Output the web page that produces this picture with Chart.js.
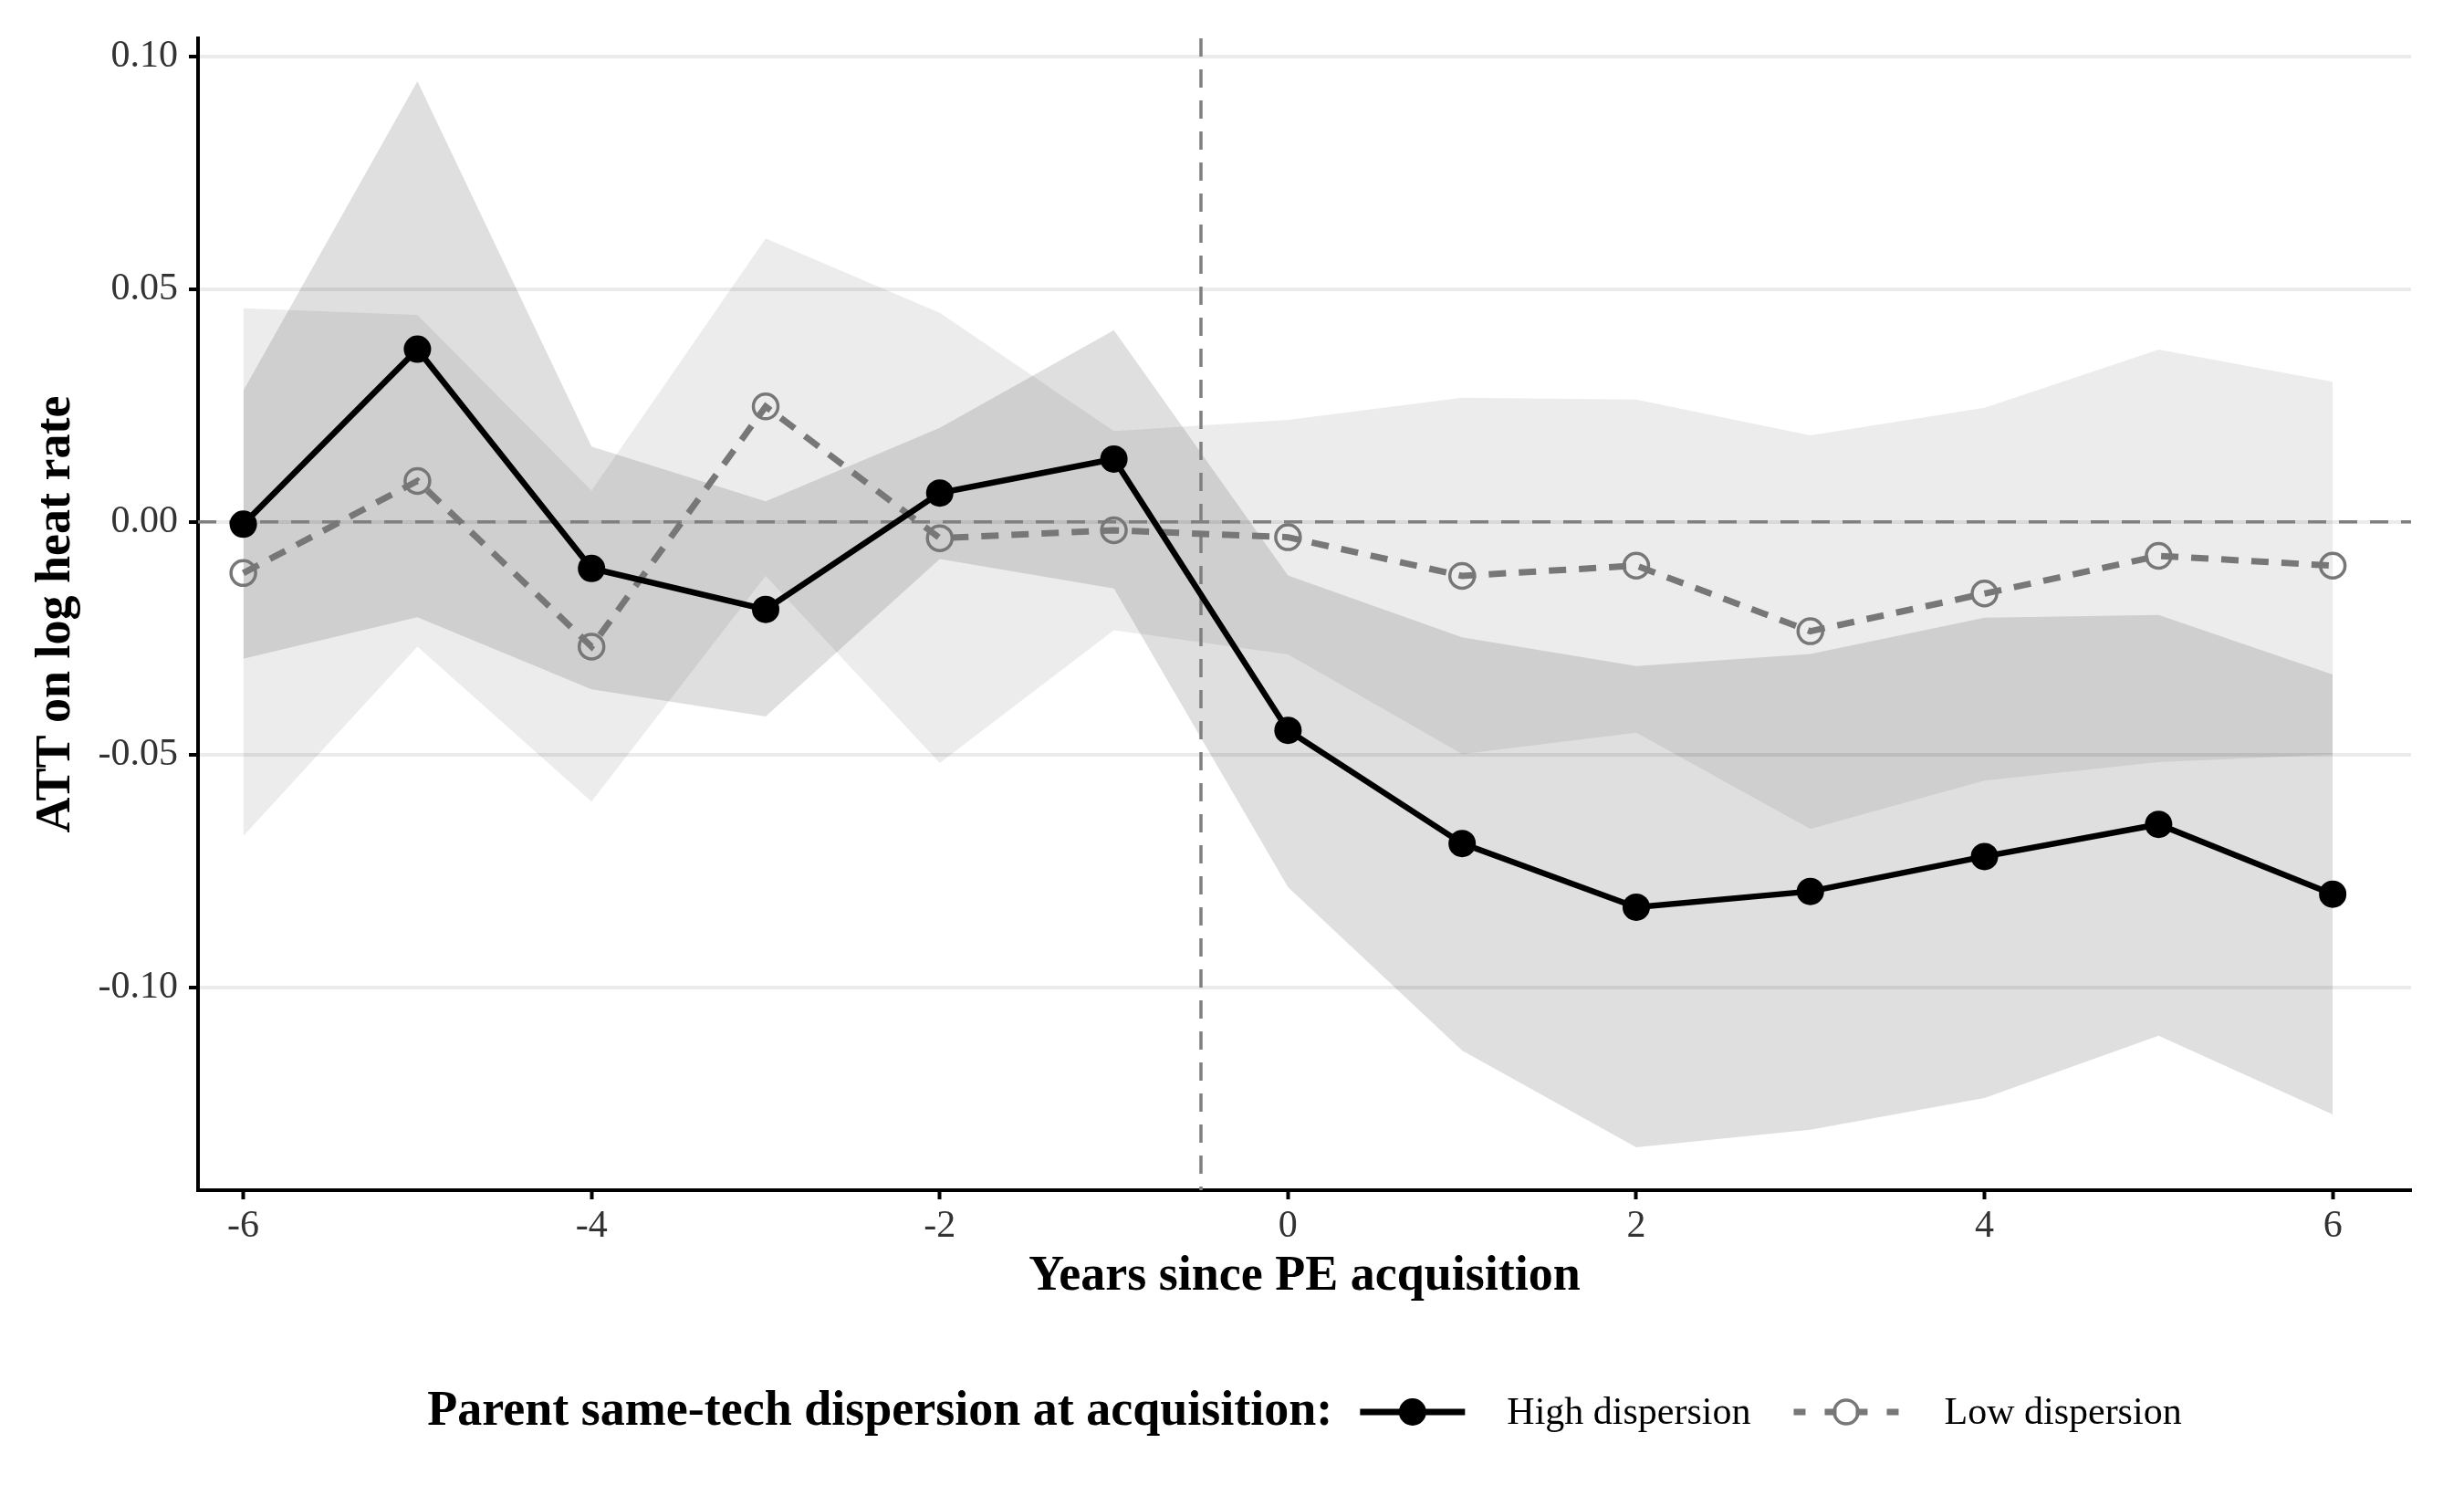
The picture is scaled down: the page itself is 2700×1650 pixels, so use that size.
<!DOCTYPE html>
<html>
<head>
<meta charset="utf-8">
<title>ATT on log heat rate</title>
<script src="https://cdn.jsdelivr.net/npm/chart.js@4.4.1/dist/chart.umd.min.js"></script>
<style>
  html, body { margin: 0; padding: 0; background: #ffffff; overflow: hidden; }
  #chartBox { width: 2700px; height: 1650px; position: relative; }
</style>
</head>
<body>
<div id="chartBox"><canvas id="attChart"></canvas></div>
<script>
// Dados do gráfico
const years = [-6, -5, -4, -3, -2, -1, 0, 1, 2, 3, 4, 5, 6];

const highEst   = [-0.0005, 0.0371, -0.0100, -0.0188, 0.0062, 0.0135, -0.0448, -0.0691, -0.0828, -0.0794, -0.0719, -0.0650, -0.0800];
const highLower = [-0.0294, -0.0205, -0.0360, -0.0418, -0.0080, -0.0143, -0.0785, -0.1136, -0.1344, -0.1306, -0.1238, -0.1104, -0.1273];
const highUpper = [0.0282, 0.0947, 0.0162, 0.0044, 0.0202, 0.0412, -0.0115, -0.0248, -0.0310, -0.0284, -0.0206, -0.0200, -0.0328];

const lowEst   = [-0.0110, 0.0088, -0.0268, 0.0248, -0.0035, -0.0018, -0.0033, -0.0116, -0.0094, -0.0235, -0.0154, -0.0073, -0.0094];
const lowLower = [-0.0675, -0.0268, -0.0601, -0.0116, -0.0518, -0.0233, -0.0285, -0.0499, -0.0453, -0.0660, -0.0556, -0.0516, -0.0500];
const lowUpper = [0.0459, 0.0445, 0.0067, 0.0609, 0.0449, 0.0195, 0.0219, 0.0267, 0.0263, 0.0186, 0.0245, 0.0370, 0.0301];

// Marcas dos eixos
const xTickValues = [-6, -4, -2, 0, 2, 4, 6];
const yTickValues = [-0.10, -0.05, 0.00, 0.05, 0.10];

// Linhas de referência
const refZeroY = 0;
const refEventX = -0.5;

// Textos
const seriesNames = ['High dispersion', 'Low dispersion'];
const legendTitle = 'Parent same-tech dispersion at acquisition:';
const xTitle = 'Years since PE acquisition';
const yTitle = 'ATT on log heat rate';

const serif = "'Liberation Serif', 'DejaVu Serif', serif";

function toPoints(values) {
  return years.map((yr, i) => ({ x: yr, y: values[i] }));
}

// Linhas tracejadas em y = 0 e x = -0,5
const refLinesPlugin = {
  id: 'refLines',
  beforeDatasetDraw(chart, args) {
    if (args.index !== 1) return;
    const { ctx, chartArea, scales } = chart;
    const y0 = scales.y.getPixelForValue(refZeroY);
    const xv = scales.x.getPixelForValue(refEventX);
    ctx.save();
    ctx.strokeStyle = '#808080';
    ctx.lineWidth = 3.5;
    ctx.setLineDash([20, 14]);
    ctx.beginPath();
    ctx.moveTo(chartArea.left, y0);
    ctx.lineTo(chartArea.right, y0);
    ctx.stroke();
    ctx.beginPath();
    ctx.moveTo(xv, chartArea.top);
    ctx.lineTo(xv, chartArea.bottom);
    ctx.stroke();
    ctx.restore();
  }
};

// Legenda embaixo, no estilo do ggplot
const bottomLegendPlugin = {
  id: 'bottomLegend',
  afterDraw(chart) {
    const { ctx, chartArea } = chart;
    const cy = chartArea.bottom + 243;
    const titleFont = 'bold 54px ' + serif;
    const labelFont = '42px ' + serif;
    const keyW = 115;

    ctx.save();
    ctx.font = titleFont;
    const titleW = ctx.measureText(legendTitle).width;
    ctx.font = labelFont;
    const lab1W = ctx.measureText(seriesNames[0]).width;
    const lab2W = ctx.measureText(seriesNames[1]).width;

    const total = titleW + 30 + keyW + 46 + lab1W + 47 + keyW + 50 + lab2W;
    let x = (chartArea.left + chartArea.right) / 2 - total / 2;

    ctx.textBaseline = 'middle';
    ctx.textAlign = 'left';
    ctx.fillStyle = '#000000';
    ctx.font = titleFont;
    ctx.fillText(legendTitle, x, cy);
    x += titleW + 30;

    // Chave: dispersão alta
    ctx.strokeStyle = '#000000';
    ctx.lineWidth = 7;
    ctx.setLineDash([]);
    ctx.beginPath();
    ctx.moveTo(x, cy);
    ctx.lineTo(x + keyW, cy);
    ctx.stroke();
    ctx.beginPath();
    ctx.arc(x + keyW / 2, cy, 15, 0, Math.PI * 2);
    ctx.fill();
    x += keyW + 46;

    ctx.fillStyle = '#000000';
    ctx.font = labelFont;
    ctx.fillText(seriesNames[0], x, cy + 2);
    x += lab1W + 47;

    // Chave: dispersão baixa
    ctx.strokeStyle = '#777777';
    ctx.lineWidth = 7;
    ctx.setLineDash([13, 21]);
    ctx.beginPath();
    ctx.moveTo(x, cy);
    ctx.lineTo(x + keyW, cy);
    ctx.stroke();
    ctx.setLineDash([]);
    ctx.lineWidth = 3.5;
    ctx.beginPath();
    ctx.arc(x + keyW / 2, cy, 13, 0, Math.PI * 2);
    ctx.stroke();
    x += keyW + 50;

    ctx.fillStyle = '#000000';
    ctx.fillText(seriesNames[1], x, cy + 2);
    ctx.restore();
  }
};

function buildChart() {
  const canvas = document.getElementById('attChart');
  const ctx = canvas.getContext('2d');

  window.attChartInstance = new Chart(ctx, {
    type: 'line',
    data: {
      datasets: [
        {
          label: seriesNames[0],
          data: toPoints(highEst),
          borderColor: '#000000',
          borderWidth: 6.5,
          tension: 0,
          fill: false,
          pointRadius: 15,
          pointBackgroundColor: '#000000',
          pointBorderColor: '#000000',
          pointBorderWidth: 0,
          order: 0
        },
        {
          label: seriesNames[1],
          data: toPoints(lowEst),
          borderColor: '#777777',
          borderWidth: 7,
          borderDash: [19, 14],
          tension: 0,
          fill: false,
          pointRadius: 13.5,
          pointBackgroundColor: 'rgba(0,0,0,0)',
          pointBorderColor: '#777777',
          pointBorderWidth: 3.5,
          order: 1
        },
        {
          label: 'high upper',
          data: toPoints(highUpper),
          borderColor: 'rgba(0,0,0,0)',
          borderWidth: 0,
          pointRadius: 0,
          tension: 0,
          fill: '+1',
          backgroundColor: 'rgba(0,0,0,0.125)',
          order: 2
        },
        {
          label: 'high lower',
          data: toPoints(highLower),
          borderColor: 'rgba(0,0,0,0)',
          borderWidth: 0,
          pointRadius: 0,
          tension: 0,
          fill: false,
          order: 2
        },
        {
          label: 'low upper',
          data: toPoints(lowUpper),
          borderColor: 'rgba(0,0,0,0)',
          borderWidth: 0,
          pointRadius: 0,
          tension: 0,
          fill: '+1',
          backgroundColor: 'rgba(0,0,0,0.075)',
          order: 2
        },
        {
          label: 'low lower',
          data: toPoints(lowLower),
          borderColor: 'rgba(0,0,0,0)',
          borderWidth: 0,
          pointRadius: 0,
          tension: 0,
          fill: false,
          order: 2
        }
      ]
    },
    options: {
      responsive: true,
      maintainAspectRatio: false,
      devicePixelRatio: 1,
      animation: false,
      layout: {
        padding: { top: 42, right: 58, bottom: 200, left: 0 }
      },
      plugins: {
        legend: { display: false },
        tooltip: { enabled: false }
      },
      scales: {
        x: {
          type: 'linear',
          min: -6.26,
          max: 6.45,
          afterFit(scale) { scale.height = 146; },
          afterBuildTicks(scale) {
            scale.ticks = xTickValues.map(v => ({ value: v }));
          },
          border: { display: true, color: '#000000', width: 4 },
          grid: {
            drawOnChartArea: false,
            drawTicks: true,
            tickLength: 10,
            tickColor: '#000000',
            tickWidth: 4
          },
          ticks: {
            autoSkip: false,
            maxRotation: 0,
            padding: 5,
            color: '#333333',
            font: { family: serif, size: 42 },
            callback: (v) => String(v)
          },
          title: {
            display: true,
            text: xTitle,
            color: '#000000',
            font: { family: serif, size: 54, weight: 'bold' },
            padding: { top: 0, bottom: 19 }
          }
        },
        y: {
          type: 'linear',
          min: -0.1436,
          max: 0.1039,
          afterFit(scale) { scale.width = 217; },
          afterBuildTicks(scale) {
            scale.ticks = yTickValues.map(v => ({ value: v }));
          },
          border: { display: true, color: '#000000', width: 4 },
          grid: {
            drawOnChartArea: true,
            color: '#ebebeb',
            lineWidth: 4,
            drawTicks: true,
            tickLength: 10,
            tickColor: '#000000',
            tickWidth: 4
          },
          ticks: {
            autoSkip: false,
            padding: 12,
            color: '#333333',
            font: { family: serif, size: 42 },
            callback: (v) => Number(v).toFixed(2)
          },
          title: {
            display: true,
            text: yTitle,
            color: '#000000',
            font: { family: serif, size: 54, weight: 'bold' },
            padding: { top: 30, bottom: 0 }
          }
        }
      }
    },
    plugins: [refLinesPlugin, bottomLegendPlugin]
  });
}

if (document.readyState === 'loading') {
  document.addEventListener('DOMContentLoaded', buildChart);
} else {
  buildChart();
}
</script>
</body>
</html>
